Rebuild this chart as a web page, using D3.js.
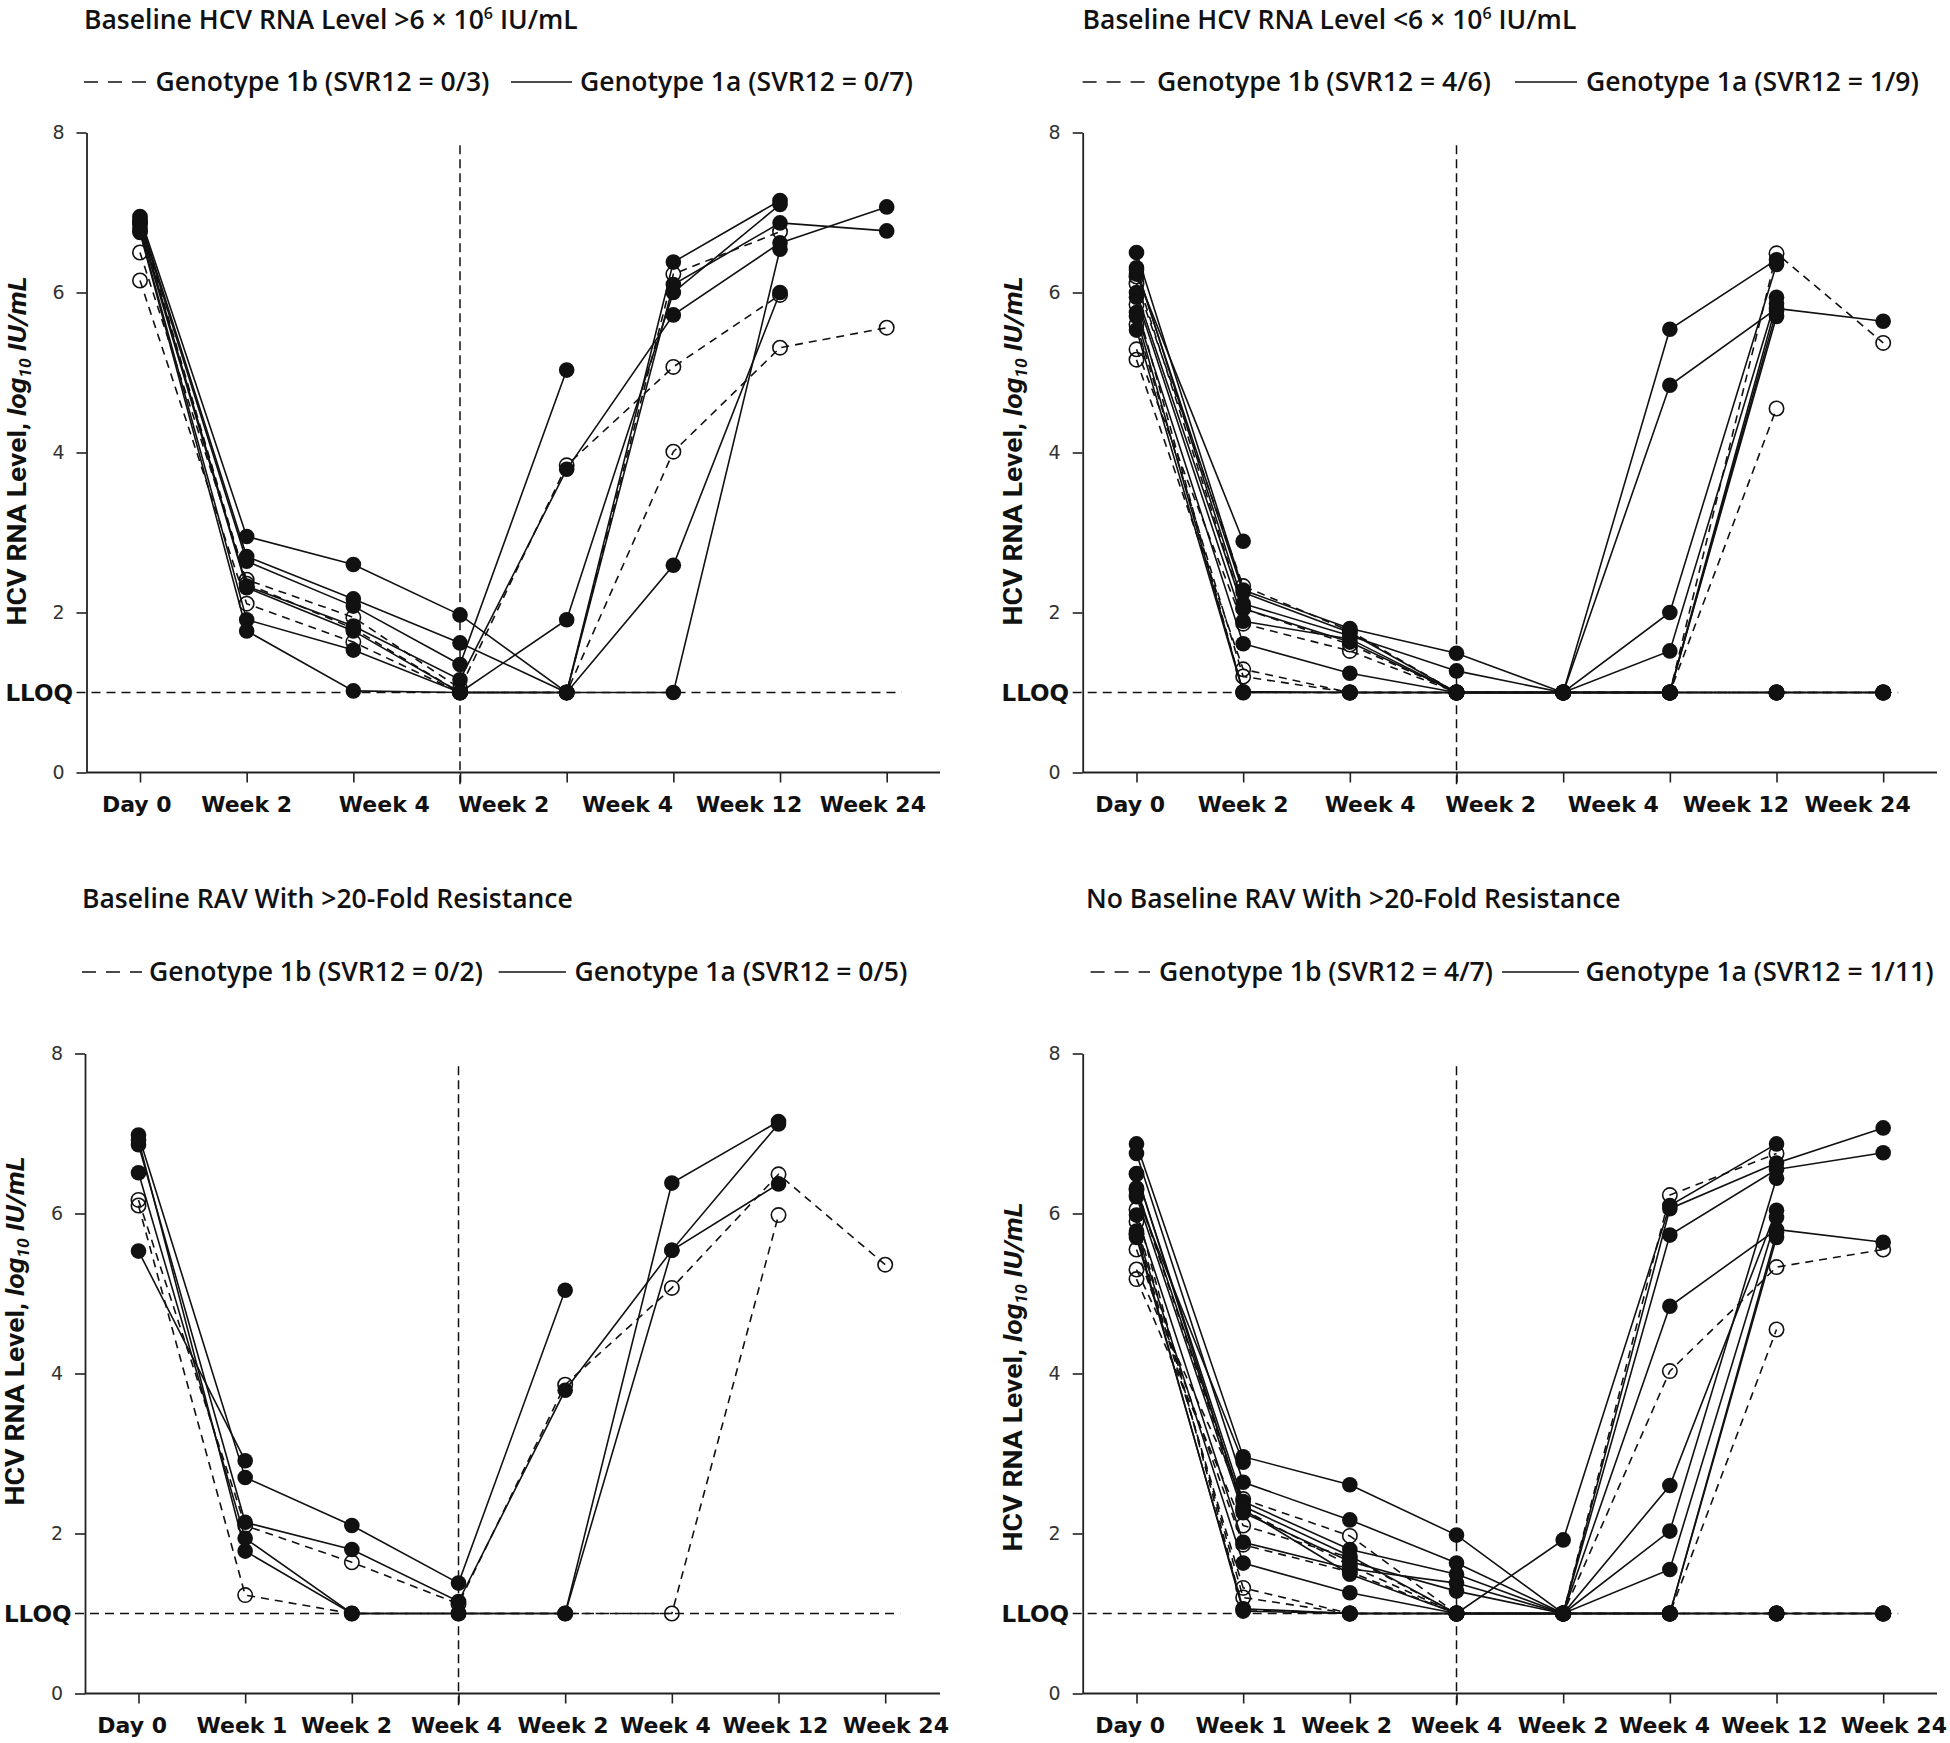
<!DOCTYPE html>
<html><head><meta charset="utf-8">
<script src="https://cdn.jsdelivr.net/npm/d3@7"></script>
<style>body{margin:0;background:#fff}</style>
</head><body>
<svg id="chart" width="1950" height="1743" xmlns="http://www.w3.org/2000/svg"></svg>
<script>
// ---------------- DATA ----------------
const timepoints = [0, 1, 2, 3, 4, 5, 6, 7];
const labelsTop = ["Day 0", "Week 2", "Week 4", "Week 2", "Week 4", "Week 12", "Week 24"];
const labelsBottom = ["Day 0", "Week 1", "Week 2", "Week 4", "Week 2", "Week 4", "Week 12", "Week 24"];
const yTicks = [0, 2, 4, 6, 8];
const lloqValue = 1;

const titleParts = [
  ["Baseline HCV RNA Level >6 × 10", "6", " IU/mL"],
  ["Baseline HCV RNA Level <6 × 10", "6", " IU/mL"],
  ["Baseline RAV With >20-Fold Resistance", "", ""],
  ["No Baseline RAV With >20-Fold Resistance", "", ""]
];
const legend1b = ["Genotype 1b (SVR12 = 0/3)", "Genotype 1b (SVR12 = 4/6)", "Genotype 1b (SVR12 = 0/2)", "Genotype 1b (SVR12 = 4/7)"];
const legend1a = ["Genotype 1a (SVR12 = 0/7)", "Genotype 1a (SVR12 = 1/9)", "Genotype 1a (SVR12 = 0/5)", "Genotype 1a (SVR12 = 1/11)"];

// Panel 1: baseline HCV RNA > 6x10^6
const p1_1b = [
  [6.50, 2.41, 1.94, 1.05, 3.84, 5.07, 5.97, null],
  [6.15, 2.11, 1.63, 1.00, 1.00, 4.01, 5.31, 5.56],
  [6.88, 2.36, 1.80, 1.00, 1.00, 6.23, 6.76, null]
];
const p1_1a = [
  [6.95, 2.95, 2.60, 1.97, 1.00, 6.38, 7.15, null],
  [6.92, 2.70, 2.17, 1.62, 1.00, 6.10, 6.87, 6.77],
  [6.88, 2.64, 2.08, 1.35, 5.03, null, null, null],
  [6.85, 2.33, 1.83, 1.16, 3.79, 5.72, 6.62, 7.07],
  [6.80, 2.31, 1.77, 1.00, 1.91, 6.00, 7.10, null],
  [6.77, 1.91, 1.53, 1.00, 1.00, 2.59, 6.00, null],
  [6.75, 1.77, 1.02, 1.00, 1.00, 1.00, 6.54, null]
];
// Panel 2: baseline HCV RNA < 6x10^6
const p2_1b = [
  [6.11, 2.33, 1.77, 1.00, 1.00, 1.00, 6.49, 5.37],
  [5.29, 1.86, 1.52, 1.00, 1.00, 1.00, 4.55, null],
  [5.16, 1.29, 1.00, 1.00, 1.00, 1.00, 1.00, 1.00],
  [5.60, 1.20, 1.00, 1.00, 1.00, 1.00, 1.00, 1.00],
  [5.85, 1.00, 1.00, 1.00, 1.00, 1.00, 1.00, 1.00],
  [6.20, 2.05, 1.60, 1.00, 1.00, 1.00, 1.00, 1.00]
];
const p2_1a = [
  [6.50, 2.28, 1.80, 1.49, 1.00, 5.54, 6.41, null],
  [6.31, 2.11, 1.71, 1.27, 1.00, 4.84, 5.80, 5.64],
  [6.23, 2.89, null, null, null, null, null, null],
  [6.00, 2.05, 1.63, 1.00, 1.00, 2.00, 6.35, null],
  [5.94, 1.89, 1.67, 1.00, 1.00, 1.52, 5.94, null],
  [5.75, 1.61, 1.24, 1.00, 1.00, 1.00, 5.77, null],
  [5.70, 1.01, 1.00, 1.00, 1.00, 1.00, 1.00, 1.00],
  [5.53, 1.00, 1.00, 1.00, 1.00, 1.00, 5.70, null],
  [6.28, 2.25, 1.75, 1.00, 1.00, 1.00, 5.86, null]
];
// Panel 3: baseline RAV with >20-fold resistance
const p3_1b = [
  [6.17, 2.10, 1.64, 1.12, 3.86, 5.07, 6.49, 5.36],
  [6.10, 1.23, 1.00, 1.00, 1.00, 1.00, 5.98, null]
];
const p3_1a = [
  [5.53, 2.91, null, null, null, null, null, null],
  [6.98, 2.70, 2.10, 1.38, 5.04, null, null, null],
  [6.86, 2.14, 1.80, 1.15, 3.79, 5.54, 6.37, null],
  [6.51, 1.94, 1.00, 1.00, 1.00, 6.38, 7.15, null],
  [6.92, 1.78, 1.00, 1.00, 1.00, 5.54, 7.12, null]
];
// Panel 4: no baseline RAV with >20-fold resistance
const p4_1b = [
  [5.30, 2.43, 1.97, 1.00, 1.00, 6.23, 6.75, null],
  [5.18, 2.10, 1.70, 1.00, 1.00, 4.03, 5.33, 5.55],
  [5.55, 1.86, 1.52, 1.00, 1.00, 1.00, 4.55, null],
  [5.75, 1.32, 1.00, 1.00, 1.00, 1.00, 1.00, 1.00],
  [5.90, 1.20, 1.00, 1.00, 1.00, 1.00, 1.00, 1.00],
  [6.05, 1.05, 1.00, 1.00, 1.00, 1.00, 1.00, 1.00],
  [6.30, 2.30, 1.60, 1.00, 1.00, 1.00, 1.00, 1.00]
];
const p4_1a = [
  [6.87, 2.96, 2.61, 1.98, 1.00, 6.06, 6.63, 7.07],
  [6.75, 2.64, 2.17, 1.63, 1.00, 5.73, 6.55, 6.76],
  [6.49, 2.40, 1.80, 1.49, 1.00, 4.84, 5.80, 5.64],
  [6.32, 2.34, 1.72, 1.00, 1.92, 6.10, 6.87, null],
  [6.21, 2.26, 1.65, 1.28, 1.00, 2.60, 6.04, null],
  [5.98, 1.89, 1.56, 1.38, 1.00, 2.03, 6.44, null],
  [5.78, 1.63, 1.26, 1.00, 1.00, 1.55, 5.95, null],
  [5.70, 1.06, 1.00, 1.00, 1.00, 1.00, 5.76, null],
  [5.74, 1.03, 1.00, 1.00, 1.00, 1.00, 1.00, 1.00],
  [6.50, 2.30, 1.49, 1.00, 1.00, 1.00, 5.70, null],
  [6.23, 2.89, null, null, null, null, null, null]
];

const series1b = [p1_1b, p2_1b, p3_1b, p4_1b];
const series1a = [p1_1a, p2_1a, p3_1a, p4_1a];
const xLabels = [labelsTop, labelsTop, labelsBottom, labelsBottom];

// ---------------- LAYOUT ----------------
const step = 106.67;
const layout = [
  {axisX: 86.5, x0: 140, y0: 772.5, y8: 132.5, xEnd: 940, titleX: 84, titleY: 29, legY: 91,
   dash: [84, 146], t1: 155.5, solid: [511, 572], t2: 580, ylabY: 451,
   labelPos: [-0.03, 1.0, 2.29, 3.41, 4.57, 5.71, 6.87]},
  {axisX: 1082.7, x0: 1136.5, y0: 772.5, y8: 132.5, xEnd: 1937, titleX: 1082.6, titleY: 29, legY: 91,
   dash: [1082.6, 1144.8], t1: 1157, solid: [1515, 1577], t2: 1586, ylabY: 451,
   labelPos: [-0.06, 1.0, 2.19, 3.32, 4.47, 5.62, 6.76]},
  {axisX: 85, x0: 138.5, y0: 1693.5, y8: 1053.5, xEnd: 940, titleX: 82, titleY: 908, legY: 981,
   dash: [82, 142], t1: 149, solid: [498.7, 566], t2: 574.5, ylabY: 1331,
   labelPos: [-0.06, 0.97, 1.95, 2.98, 3.98, 4.94, 5.97, 7.1]},
  {axisX: 1082.7, x0: 1136.5, y0: 1693.5, y8: 1053.5, xEnd: 1937, titleX: 1086, titleY: 908, legY: 981,
   dash: [1090.6, 1150], t1: 1159, solid: [1502, 1579], t2: 1585.6, ylabY: 1377,
   labelPos: [-0.06, 0.98, 1.97, 3.0, 4.0, 4.95, 5.98, 7.1]}
];

const INK = "#111";
const labelFont = "'Open Sans', 'Noto Sans', sans-serif";
const ylabFont = "Roboto, 'Open Sans', sans-serif";
const tickFont = "'DejaVu Sans', sans-serif";
const LABEL_SIZE = 26.5;

const svg = d3.select("#chart");

layout.forEach((L, pi) => {
  const g = svg.append("g");
  const x = d3.scaleLinear().domain([0, 7]).range([L.x0, L.x0 + 7 * step]);
  const y = d3.scaleLinear().domain([0, 8]).range([L.y0, L.y8]);

  // Title
  const tp = titleParts[pi];
  const title = g.append("text").attr("x", L.titleX).attr("y", L.titleY)
    .attr("font-family", labelFont).attr("font-weight", 600).attr("font-size", LABEL_SIZE).attr("fill", INK);
  title.append("tspan").text(tp[0]);
  if (tp[1]) title.append("tspan").attr("font-size", 16).attr("dy", -10).text(tp[1]);
  if (tp[2]) title.append("tspan").attr("dy", 10).text(tp[2]);

  // Legend
  g.append("line").attr("x1", L.dash[0]).attr("x2", L.dash[1]).attr("y1", L.legY - 9).attr("y2", L.legY - 9)
    .attr("stroke", INK).attr("stroke-width", 1.6).attr("stroke-dasharray", "14,10");
  g.append("text").attr("x", L.t1).attr("y", L.legY).attr("font-family", labelFont).attr("font-weight", 600)
    .attr("font-size", LABEL_SIZE).attr("fill", INK).text(legend1b[pi]);
  g.append("line").attr("x1", L.solid[0]).attr("x2", L.solid[1]).attr("y1", L.legY - 9).attr("y2", L.legY - 9)
    .attr("stroke", INK).attr("stroke-width", 1.6);
  g.append("text").attr("x", L.t2).attr("y", L.legY).attr("font-family", labelFont).attr("font-weight", 600)
    .attr("font-size", LABEL_SIZE).attr("fill", INK).text(legend1a[pi]);

  // Y axis label
  const yl = g.append("text").attr("transform", `translate(${L.axisX - 61},${L.ylabY}) rotate(-90)`)
    .attr("text-anchor", "middle").attr("font-family", ylabFont).attr("font-weight", 700)
    .attr("font-size", 26).attr("fill", INK)
    .attr("textLength", 349).attr("lengthAdjust", "spacingAndGlyphs");
  yl.append("tspan").text("HCV RNA Level, ");
  yl.append("tspan").attr("font-style", "italic").text("log");
  yl.append("tspan").attr("font-style", "italic").attr("font-size", 16).attr("dy", 5).text("10");
  yl.append("tspan").attr("font-style", "italic").attr("dy", -5).text(" IU/mL");

  // Y axis
  const yAxis = d3.axisLeft(y).tickValues(yTicks).tickSize(10).tickSizeOuter(0).tickPadding(12);
  const ya = g.append("g").attr("transform", `translate(${L.axisX},0)`).call(yAxis);
  ya.select(".domain").attr("stroke", "#222").attr("stroke-width", 1.8);
  ya.selectAll(".tick line").attr("stroke", "#222").attr("stroke-width", 1.6);
  ya.selectAll(".tick text").attr("font-family", tickFont).attr("font-size", 19).attr("fill", "#333");

  // LLOQ label
  g.append("text").attr("x", L.axisX - 13.5).attr("y", y(lloqValue)).attr("dy", "0.36em")
    .attr("text-anchor", "end").attr("font-family", tickFont).attr("font-weight", "bold")
    .attr("font-size", 23).attr("fill", INK).text("LLOQ");

  // X axis
  const xAxis = d3.axisBottom(x).tickValues(timepoints).tickFormat(() => "").tickSize(10).tickSizeOuter(0);
  const xa = g.append("g").attr("transform", `translate(0,${L.y0})`).call(xAxis);
  xa.select(".domain").remove();
  xa.selectAll(".tick line").attr("stroke", "#222").attr("stroke-width", 1.6);
  g.append("line").attr("x1", L.axisX).attr("x2", L.xEnd).attr("y1", L.y0).attr("y2", L.y0)
    .attr("stroke", "#222").attr("stroke-width", 1.8);

  // X labels
  g.selectAll(".xlab").data(xLabels[pi]).enter().append("text")
    .attr("x", (d, i) => x(L.labelPos[i])).attr("y", L.y0 + 39)
    .attr("text-anchor", "middle").attr("font-family", tickFont).attr("font-weight", "bold")
    .attr("font-size", 22).attr("fill", INK).text(d => d);

  // Reference lines
  g.append("line").attr("x1", L.axisX - 10).attr("x2", x(7) + 15).attr("y1", y(lloqValue)).attr("y2", y(lloqValue))
    .attr("stroke", INK).attr("stroke-width", 1.5).attr("stroke-dasharray", "9,6");
  g.append("line").attr("x1", x(3)).attr("x2", x(3)).attr("y1", y(7.84)).attr("y2", L.y0 + 14)
    .attr("stroke", INK).attr("stroke-width", 1.5).attr("stroke-dasharray", "9,5");

  const line = d3.line().defined(d => d.v != null).x(d => x(d.t)).y(d => y(d.v));
  const toPts = arr => arr.map((v, t) => ({t, v}));

  // 1b dashed lines
  g.selectAll(".l1b").data(series1b[pi]).enter().append("path")
    .attr("d", d => line(toPts(d))).attr("fill", "none").attr("stroke", INK)
    .attr("stroke-width", 1.6).attr("stroke-dasharray", "8,6");
  // 1a solid lines
  g.selectAll(".l1a").data(series1a[pi]).enter().append("path")
    .attr("d", d => line(toPts(d))).attr("fill", "none").attr("stroke", INK).attr("stroke-width", 1.6);

  // open circles (1b)
  const open = series1b[pi].flatMap(toPts).filter(d => d.v != null);
  g.selectAll(".o").data(open).enter().append("circle")
    .attr("cx", d => x(d.t)).attr("cy", d => y(d.v)).attr("r", 7.2)
    .attr("fill", "none").attr("stroke", INK).attr("stroke-width", 1.6);
  // filled circles (1a)
  const filled = series1a[pi].flatMap(toPts).filter(d => d.v != null);
  g.selectAll(".f").data(filled).enter().append("circle")
    .attr("cx", d => x(d.t)).attr("cy", d => y(d.v)).attr("r", 7.8).attr("fill", INK);
});
</script>
</body></html>
